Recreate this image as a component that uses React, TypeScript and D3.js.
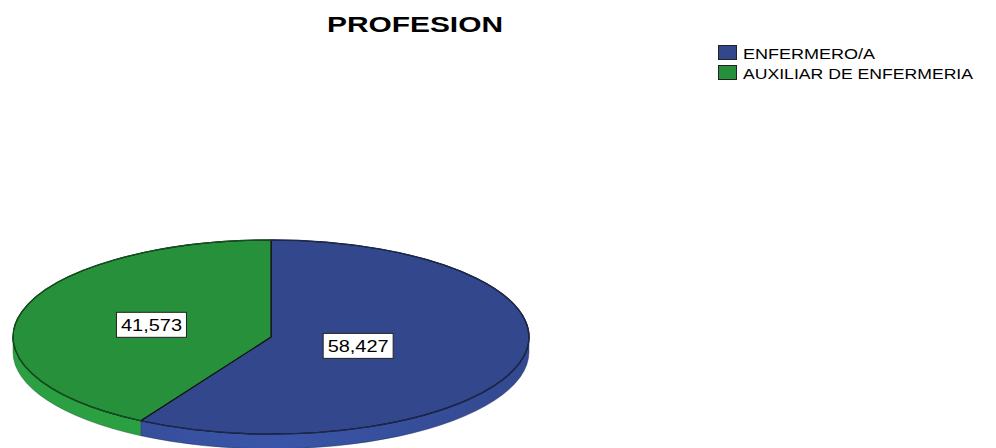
import React from "react";
import * as d3 from "d3";

const categories = ["ENFERMERO/A", "AUXILIAR DE ENFERMERIA"];
const values = [58.427, 41.573];
const valueLabels = ["58,427", "41,573"];
const title = "PROFESION";

const topColors = ["#33488c", "#26903a"];
const edgeColors = ["#1c2850", "#14501f"];
const sideColors = [
  ["#3a55a8", "#33498f"],
  ["#238a38", "#2aa042"],
];
const labelRadius = [0.35, 0.48];

const W = 996, H = 448;
const cx = 271, cy = 337, rx = 258, ry = 97, depth = 15;

function pt(a: number, dy = 0): [number, number] {
  return [cx + rx * Math.sin(a), cy - ry * Math.cos(a) + dy];
}

export default function App() {
  const pie = d3.pie<number>().sort(null).value((d) => d);
  const arcs = pie(values);

  const topPath = (a0: number, a1: number) => {
    const p0 = pt(a0), p1 = pt(a1);
    const large = a1 - a0 > Math.PI ? 1 : 0;
    return `M${cx},${cy}L${p0[0]},${p0[1]}A${rx},${ry} 0 ${large} 1 ${p1[0]},${p1[1]}Z`;
  };
  const rimPath = (a0: number, a1: number) => {
    const p0 = pt(a0), p1 = pt(a1);
    const large = a1 - a0 > Math.PI ? 1 : 0;
    return `M${p0[0]},${p0[1]}A${rx},${ry} 0 ${large} 1 ${p1[0]},${p1[1]}`;
  };
  const sidePath = (a0: number, a1: number) => {
    const s = Math.max(a0, Math.PI / 2), e = Math.min(a1, (3 * Math.PI) / 2);
    if (e <= s) return null;
    const p0 = pt(s), p1 = pt(e), q1 = pt(e, depth), q0 = pt(s, depth);
    return `M${p0[0]},${p0[1]}A${rx},${ry} 0 0 1 ${p1[0]},${p1[1]}L${q1[0]},${q1[1]}A${rx},${ry} 0 0 0 ${q0[0]},${q0[1]}Z`;
  };

  const labelW = 70, labelH = 25;

  return (
    <svg width={W} height={H} style={{ position: "absolute", left: 0, top: 0, background: "#fff" }}
      fontFamily="'Liberation Sans', Arial, sans-serif">
      <defs>
        {arcs.map((a, i) => (
          <linearGradient key={i} id={`side${i}`} gradientUnits="userSpaceOnUse" x1={cx - rx} x2={cx + rx} y1={0} y2={0}>
            <stop offset="0" stopColor={sideColors[i][1]} />
            <stop offset="0.5" stopColor={i === 0 ? sideColors[i][0] : sideColors[i][1]} />
            <stop offset="1" stopColor={sideColors[i][1]} />
          </linearGradient>
        ))}
      </defs>
      <text x={415} y={32} textAnchor="middle" fontSize={22} fontWeight="bold" textLength={176} lengthAdjust="spacingAndGlyphs">{title}</text>

      {categories.map((c, i) => (
        <g key={c}>
          <rect x={718.5} y={45.5 + i * 20} width={18} height={14} fill={topColors[i]} stroke="#222" strokeWidth={1} />
          <text x={743} y={59 + i * 19.5} fontSize={15} textLength={i === 0 ? 132 : 230} lengthAdjust="spacingAndGlyphs">{c}</text>
        </g>
      ))}

      {arcs.map((a, i) => {
        const d = sidePath(a.startAngle, a.endAngle);
        return d ? <path key={`s${i}`} d={d} fill={`url(#side${i})`} stroke={edgeColors[i]} strokeOpacity={0.6} strokeWidth={0.7} /> : null;
      })}
      {arcs.map((a, i) => (
        <path key={`t${i}`} d={topPath(a.startAngle, a.endAngle)} fill={topColors[i]} stroke="#111" strokeWidth={1.2} strokeLinejoin="round" />
      ))}
      {arcs.map((a, i) => (
        <path key={`r${i}`} d={rimPath(a.startAngle, a.endAngle)} fill="none" stroke={edgeColors[i]} strokeWidth={1.3} />
      ))}
      {arcs.map((a, i) => {
        const m = (a.startAngle + a.endAngle) / 2;
        const x = cx + rx * labelRadius[i] * Math.sin(m);
        const y = cy - ry * labelRadius[i] * Math.cos(m);
        return (
          <g key={`l${i}`}>
            <rect x={x - labelW / 2} y={y - labelH / 2} width={labelW} height={labelH} fill="#fff" stroke="#222" strokeWidth={1} />
            <text x={x} y={y + 6} textAnchor="middle" fontSize={16} textLength={61} lengthAdjust="spacingAndGlyphs">{valueLabels[i]}</text>
          </g>
        );
      })}
    </svg>
  );
}
